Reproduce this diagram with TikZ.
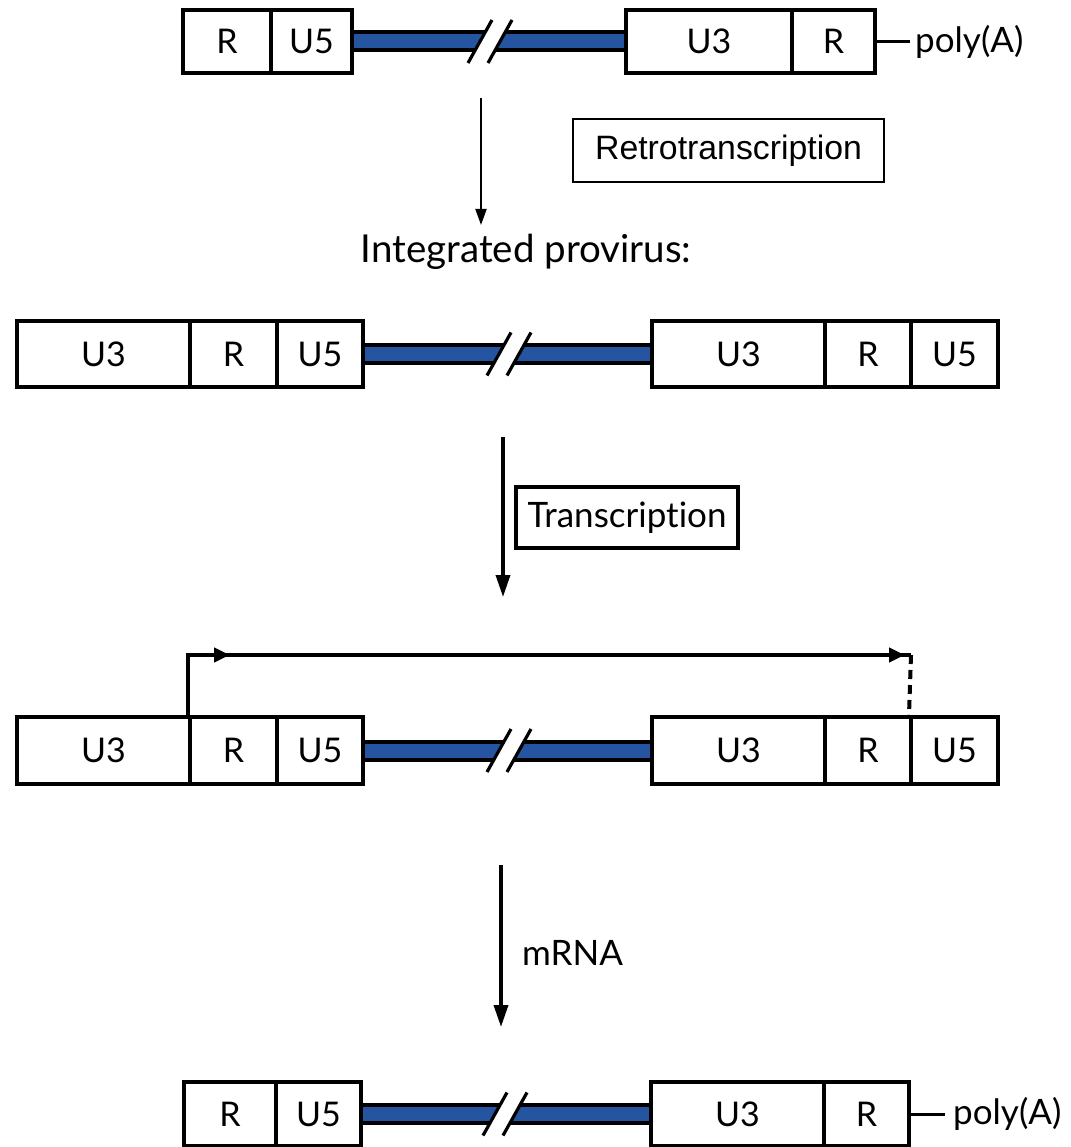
\documentclass[tikz,border=0pt]{standalone}
\usepackage{fontspec}
\setmainfont{Lato}[Ligatures={NoCommon,NoRare,NoContextual}]
\newfontfamily\arialfont{Liberation Sans}
\usetikzlibrary{arrows.meta,decorations.markings}
\definecolor{bandblue}{RGB}{37,85,160}
\tikzset{
  seg/.style={draw, line width=4pt, inner sep=0pt, fill=white,
    font=\fontsize{34}{34}\selectfont},
  band/.style={draw, line width=4pt, fill=bandblue, inner sep=0pt, minimum height=18pt},
  slash/.style={line width=3.2pt},
  bigarrow/.style={line width=3.5pt, -{Triangle[length=22pt,width=14pt]}},
  lbl/.style={inner sep=0pt, font=\fontsize{35}{35}\selectfont}
}
% segment: name, x1, x2, ytop, ybot, text
\newcommand\seg[6]{\node[seg, minimum width={#3-#2}, minimum height={#5-#4}] (#1) at ({(#2+#3)/2},{(#4+#5)/2}) {#6};}
% band: name, x1, x2, cy
\newcommand\bnd[4]{\node[band, minimum width={#3-#2}] (#1) at ({(#2+#3)/2},#4) {};}
% break mark: cx, cy
\newcommand\brk[2]{%
  \fill[white] ({#1-10-8},{#2+14}) -- ({#1-10+8},{#2-14}) -- ({#1+10+8},{#2-14}) -- ({#1+10-8},{#2+14}) -- cycle;
  \draw[slash] ({#1-22},{#2+21.5}) -- ({#1+2},{#2-21.5});
  \draw[slash] ({#1-2},{#2+21.5}) -- ({#1+22},{#2-21.5});}
\begin{document}
\begin{tikzpicture}[x=1pt,y=-1pt]
\useasboundingbox (0,0) rectangle (1070,1147);

% ---- Row 1: RNA genome
\bnd{r1b}{352}{626}{41.5}
\brk{490}{41.5}
\seg{r1R}{183}{271}{10}{73}{R}
\seg{r1U5}{271}{352}{10}{73}{U5}
\seg{r1U3}{626}{792}{10}{73}{U3}
\seg{r1Rb}{792}{875}{10}{73}{R}
\node[lbl, anchor=west, inner xsep=5pt] (pa1) at (910,41.5) {poly(A)};
\draw[line width=3pt] (r1Rb.east) -- (pa1.west);

% ---- Retrotranscription
\coordinate (a1s) at (481,98);
\node[font=\fontsize{38.5}{38.5}\selectfont] (prov) at (526,252) {Integrated provirus:};
\draw[line width=2pt, -{Triangle[length=16pt,width=11pt]}] (a1s) -- (a1s |- 0,225);
\node[draw, line width=2pt, minimum width=311pt, minimum height=63pt, inner sep=0pt,
  font=\arialfont\fontsize{33.8}{33.8}\selectfont] (rt) at (728.5,150.5) {Retrotranscription};

% ---- Row 2: provirus
\bnd{r2b}{363}{652}{354}
\brk{509}{354}
\seg{r2U3}{17}{190}{321}{387}{U3}
\seg{r2R}{190}{277}{321}{387}{R}
\seg{r2U5}{277}{363}{321}{387}{U5}
\seg{r2U3b}{652}{825}{321}{387}{U3}
\seg{r2Rb}{825}{911}{321}{387}{R}
\seg{r2U5b}{911}{998}{321}{387}{U5}

% ---- Transcription arrow
\coordinate (a2s) at (503,437);
\coordinate (a2e) at (503,597);
\draw[bigarrow] (a2s) -- (a2e);
\node[draw, line width=4pt, minimum width=222pt, minimum height=61pt, inner sep=0pt,
  font=\fontsize{35}{35}\selectfont] (tr) at (627,517.5) {Transcript\kern0pt ion};

% ---- Row 3: provirus with transcript
\bnd{r3b}{363}{652}{750.5}
\brk{509}{750.5}
\seg{r3U3}{17}{190}{717}{784}{U3}
\seg{r3R}{190}{277}{717}{784}{R}
\seg{r3U5}{277}{363}{717}{784}{U5}
\seg{r3U3b}{652}{825}{717}{784}{U3}
\seg{r3Rb}{825}{911}{717}{784}{R}
\seg{r3U5b}{911}{998}{717}{784}{U5}
\coordinate (tt) at (911,655);
\draw[line width=4pt, line join=miter,
  decoration={markings,
    mark=at position 102pt with {\arrow{Triangle[length=16pt,width=14pt]}},
    mark=at position 777pt with {\arrow{Triangle[length=16pt,width=14pt]}}},
  postaction={decorate}]
  (r3R.north west) |- (tt);
\draw[line width=4pt, dash pattern=on 9pt off 6pt] (tt) -- (r3U5b.north west);

% ---- mRNA arrow
\coordinate (a3s) at (501,865);
\coordinate (a3e) at (501,1027);
\draw[bigarrow] (a3s) -- (a3e);
\node[lbl, anchor=west] (mrna) at (522,953) {mRNA};

% ---- Row 4: mRNA
\bnd{r4b}{361}{651}{1114}
\brk{505}{1114}
\seg{r4R}{184}{276}{1082}{1146}{R}
\seg{r4U5}{276}{361}{1082}{1146}{U5}
\seg{r4U3}{651}{824}{1082}{1146}{U3}
\seg{r4Rb}{824}{909}{1082}{1146}{R}
\node[lbl, anchor=west, inner xsep=8pt] (pa2) at (945,1114) {poly(A)};
\draw[line width=3pt] (r4Rb.east) -- (pa2.west);
\end{tikzpicture}
\end{document}
